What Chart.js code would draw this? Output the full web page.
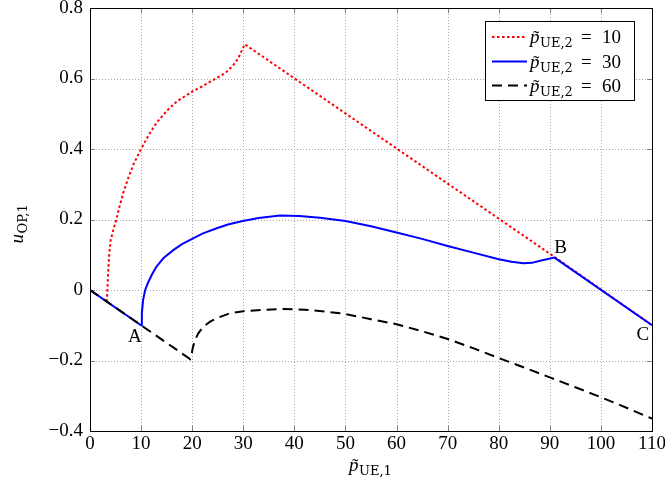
<!DOCTYPE html>
<html>
<head>
<meta charset="utf-8">
<script src="https://cdn.jsdelivr.net/npm/chart.js@4.4.0/dist/chart.umd.min.js"></script>
<style>
  body { margin: 0; background: #fff; }
  #wrap { width: 665px; height: 492px; }
</style>
</head>
<body>
<div id="wrap"><canvas id="chart"></canvas></div>
<script>
// tick labels
const xTicks = [0, 10, 20, 30, 40, 50, 60, 70, 80, 90, 100, 110];
const yTicks = [-0.4, -0.2, 0, 0.2, 0.4, 0.6, 0.8];

// p_UE,2 = 10 (red, dotted)
const redX = [3.3, 3.4, 3.55, 3.75, 4.05, 4.6, 5.2, 5.8, 6.5, 7.5, 8.5, 10, 11.5, 13, 15, 17, 20, 22, 24, 25.5, 26.75, 28, 29, 30.3, 91, 110];
const redY = [-0.033, 0.0, 0.05, 0.1, 0.142, 0.172, 0.203, 0.238, 0.275, 0.318, 0.356, 0.4, 0.44, 0.474, 0.508, 0.535, 0.563, 0.578, 0.595, 0.607, 0.619, 0.637, 0.657, 0.697, 0.093, -0.1];

// p_UE,2 = 30 (blue, solid)
const blueX = [0, 10, 10.15, 10.4, 10.8, 11.4, 12.2, 13, 14.35, 16.3, 18, 20, 22, 24.8, 27, 29.9, 33, 37.2, 41, 45, 50, 55, 60, 65, 70, 75, 80, 82.5, 84.8, 86.5, 88.1, 90.9, 110];
const blueY = [0, -0.1, -0.065, -0.028, 0, 0.022, 0.046, 0.066, 0.09, 0.113, 0.13, 0.145, 0.16, 0.175, 0.186, 0.196, 0.204, 0.211, 0.21, 0.205, 0.196, 0.181, 0.163, 0.145, 0.125, 0.106, 0.087, 0.08, 0.076, 0.077, 0.083, 0.092, -0.1];

// p_UE,2 = 60 (black, dashed)
const blackX = [0, 19.6, 19.85, 20.1, 20.55, 21.2, 22.2, 23.5, 25, 27.4, 30, 34, 38, 42, 46, 50, 55, 60, 65, 70, 75, 80, 85, 90, 95, 100, 105, 110];
const blackY = [0, -0.196, -0.185, -0.165, -0.142, -0.123, -0.104, -0.09, -0.079, -0.066, -0.06, -0.056, -0.054, -0.056, -0.061, -0.068, -0.083, -0.097, -0.117, -0.139, -0.165, -0.193, -0.22, -0.248, -0.276, -0.304, -0.334, -0.365];

const legendValues = ["10", "30", "60"];
const pointNames = ["A", "B", "C"];
const pointX = [8.8, 92.1, 108.2];
const pointY = [-0.132, 0.118, -0.128];

const FONT = '"Liberation Serif", "DejaVu Serif", serif';
const SUBFONT = '"DejaVu Serif", serif';
const SIZE = 19;

function toXY(xs, ys) {
  return xs.map((v, i) => ({ x: v, y: ys[i] }));
}

// italic letter + optional tilde + upright subscript, baseline at y
function drawSymbol(ctx, x, y, letter, sub, tilde, size) {
  ctx.textAlign = "left";
  ctx.textBaseline = "alphabetic";
  ctx.font = "italic " + size + "px " + FONT;
  ctx.fillText(letter, x, y);
  const w = ctx.measureText(letter).width;
  if (tilde) {
    ctx.font = size + "px " + FONT;
    ctx.textAlign = "center";
    ctx.fillText("\u02DC", x + w / 2 + 1.5, y + 1);
    ctx.textAlign = "left";
  }
  ctx.font = "13px " + SUBFONT;
  ctx.fillText(sub, x + w + 0.5, y + 4);
  return w + 0.5 + ctx.measureText(sub).width;
}

const overlay = {
  id: "overlay",
  beforeDatasetsDraw(chart) {
    const { ctx, chartArea: a, scales: { x, y } } = chart;
    ctx.save();
    ctx.strokeStyle = "#a8a8a8";
    ctx.lineWidth = 1;
    ctx.setLineDash([1, 2]);
    ctx.beginPath();
    xTicks.forEach(v => {
      const px = Math.round(x.getPixelForValue(v)) + 0.5;
      ctx.moveTo(px, a.top);
      ctx.lineTo(px, a.bottom);
    });
    yTicks.forEach(v => {
      const py = Math.round(y.getPixelForValue(v)) + 0.5;
      ctx.moveTo(a.left, py);
      ctx.lineTo(a.right, py);
    });
    ctx.stroke();
    ctx.setLineDash([]);
    ctx.strokeStyle = "#808080";
    ctx.beginPath();
    xTicks.forEach(v => {
      const px = Math.round(x.getPixelForValue(v)) + 0.5;
      ctx.moveTo(px, a.bottom); ctx.lineTo(px, a.bottom - 5);
      ctx.moveTo(px, a.top); ctx.lineTo(px, a.top + 5);
    });
    yTicks.forEach(v => {
      const py = Math.round(y.getPixelForValue(v)) + 0.5;
      ctx.moveTo(a.left, py); ctx.lineTo(a.left + 5, py);
      ctx.moveTo(a.right, py); ctx.lineTo(a.right - 5, py);
    });
    ctx.stroke();
    ctx.restore();
  },
  afterDatasetsDraw(chart) {
    const { ctx, chartArea: a } = chart;
    ctx.save();
    ctx.strokeStyle = "#000";
    ctx.lineWidth = 1;
    ctx.strokeRect(Math.round(a.left) + 0.5, Math.round(a.top) + 0.5,
      Math.round(a.right - a.left), Math.round(a.bottom - a.top));
    ctx.restore();
  },
  afterDraw(chart) {
    const { ctx, chartArea: a, scales: { x, y } } = chart;
    ctx.save();
    ctx.fillStyle = "#000";

    // point labels
    ctx.font = SIZE + "px " + FONT;
    ctx.textAlign = "center";
    ctx.textBaseline = "middle";
    pointNames.forEach((n, i) => {
      ctx.fillText(n, x.getPixelForValue(pointX[i]), y.getPixelForValue(pointY[i]));
    });

    // axis titles
    drawSymbol(ctx, (a.left + a.right) / 2 - 22, 471, "p", "UE,1", true, SIZE);
    ctx.save();
    ctx.translate(23, (a.top + a.bottom) / 2 + 2);
    ctx.rotate(-Math.PI / 2);
    drawSymbol(ctx, -22, 0, "u", "OP,1", false, SIZE);
    ctx.restore();

    // legend
    const lx = 485.5, ly = 21.5, lw = 149, lh = 79;
    ctx.fillStyle = "#fff";
    ctx.fillRect(lx, ly, lw, lh);
    ctx.strokeStyle = "#000";
    ctx.lineWidth = 1;
    ctx.strokeRect(lx, ly, lw, lh);
    const rows = [37, 61.5, 85.5];
    chart.data.datasets.slice().reverse().forEach((ds, i) => {
      const ry = rows[i];
      ctx.save();
      ctx.strokeStyle = ds.borderColor;
      ctx.lineWidth = ds.borderWidth;
      ctx.setLineDash(ds.borderDash || []);
      ctx.beginPath();
      ctx.moveTo(492, ry);
      ctx.lineTo(527, ry);
      ctx.stroke();
      ctx.restore();
      ctx.fillStyle = "#000";
      drawSymbol(ctx, 530, ry + 6, "p", "UE,2", true, SIZE);
      ctx.font = SIZE + "px " + FONT;
      ctx.textAlign = "left";
      ctx.textBaseline = "alphabetic";
      ctx.fillText("=", 581, ry + 6);
      ctx.fillText(legendValues[i], 602, ry + 6);
    });
    ctx.restore();
  }
};

const fmt = v => String(Math.round(v * 10) / 10).replace("-", "\u2212");

new Chart(document.getElementById("chart"), {
  type: "line",
  data: {
    datasets: [
      { label: "p60", data: toXY(blackX, blackY), borderColor: "#000000", borderWidth: 2, borderDash: [10, 6] },
      { label: "p30", data: toXY(blueX, blueY), borderColor: "#0000ff", borderWidth: 2 },
      { label: "p10", data: toXY(redX, redY), borderColor: "#ff0000", borderWidth: 2, borderDash: [2.5, 2.5] }
    ]
  },
  options: {
    responsive: true,
    maintainAspectRatio: false,
    animation: false,
    layout: { padding: { top: 8, right: 13, left: 0, bottom: 0 } },
    elements: { point: { radius: 0 }, line: { tension: 0, fill: false } },
    plugins: { legend: { display: false }, tooltip: { enabled: false } },
    scales: {
      x: {
        type: "linear", min: 0, max: 110,
        afterBuildTicks: s => { s.ticks = xTicks.map(v => ({ value: v })); },
        ticks: { color: "#000", font: { family: FONT, size: SIZE }, padding: 2, callback: fmt, maxRotation: 0 },
        grid: { display: false, drawTicks: false },
        border: { display: false },
        afterFit: s => { s.height = 61; s.paddingLeft = 0; s.paddingRight = 0; }
      },
      y: {
        type: "linear", min: -0.4, max: 0.8,
        afterBuildTicks: s => { s.ticks = yTicks.map(v => ({ value: v })); },
        ticks: { color: "#000", font: { family: FONT, size: SIZE }, padding: 7, callback: fmt },
        grid: { display: false, drawTicks: false },
        border: { display: false },
        afterFit: s => { s.width = 90; s.paddingTop = 0; s.paddingBottom = 0; }
      }
    }
  },
  plugins: [overlay]
});
</script>
</body>
</html>
